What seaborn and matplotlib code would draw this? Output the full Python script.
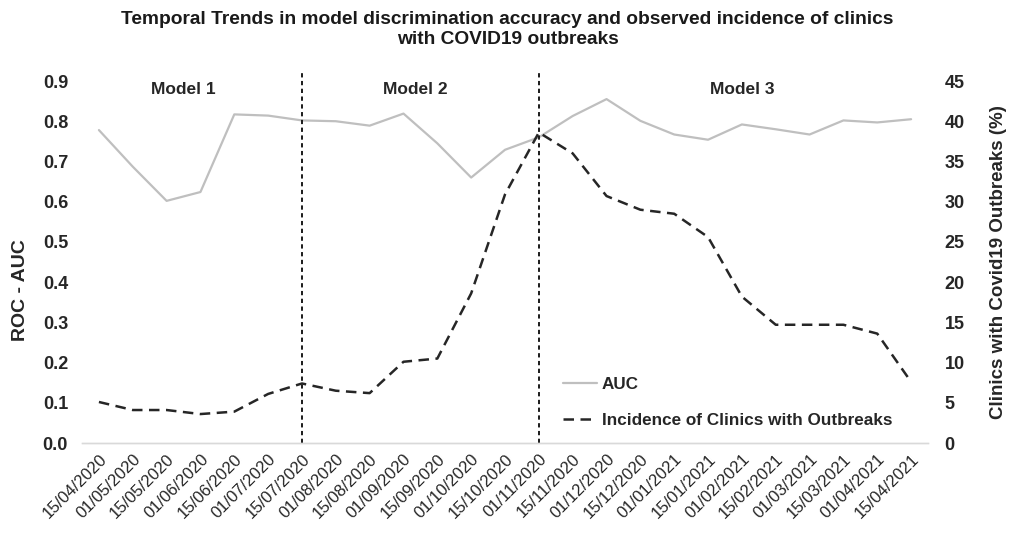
import numpy as np
import pandas as pd
import matplotlib
matplotlib.use("Agg")
import matplotlib.pyplot as plt
import seaborn as sns

# Fortnightly evaluation dates
dates = [
    "15/04/2020", "01/05/2020", "15/05/2020", "01/06/2020", "15/06/2020",
    "01/07/2020", "15/07/2020", "01/08/2020", "15/08/2020", "01/09/2020",
    "15/09/2020", "01/10/2020", "15/10/2020", "01/11/2020", "15/11/2020",
    "01/12/2020", "15/12/2020", "01/01/2021", "15/01/2021", "01/02/2021",
    "15/02/2021", "01/03/2021", "15/03/2021", "01/04/2021", "15/04/2021",
]

# ROC-AUC of the model in use at each date
auc = [
    0.778, 0.687, 0.602, 0.624, 0.817, 0.814, 0.802, 0.800, 0.789, 0.819,
    0.745, 0.660, 0.729, 0.760, 0.813, 0.855, 0.801, 0.767, 0.754, 0.792,
    0.780, 0.767, 0.802, 0.797, 0.805,
]

# Percentage of clinics with a COVID-19 outbreak
incidence = [
    5.1, 4.1, 4.1, 3.6, 3.9, 6.1, 7.4, 6.5, 6.2, 10.1,
    10.5, 18.6, 30.9, 38.6, 36.0, 30.7, 29.0, 28.5, 25.6, 18.2,
    14.7, 14.7, 14.7, 13.6, 7.6,
]

# Model switch dates and period labels
switch_dates = ["15/07/2020", "01/11/2020"]
model_labels = ["Model 1", "Model 2", "Model 3"]
model_label_pos = [2.5, 9.35, 19.0]

df = pd.DataFrame({"pos": np.arange(len(dates)), "date": dates,
                   "auc": auc, "incidence": incidence})

sns.set_theme(style="white")
plt.rcParams["font.family"] = ["Liberation Sans", "DejaVu Sans"]

fig = plt.figure(figsize=(10.15, 5.34), dpi=100)
ax = fig.add_axes([0.0808, 0.1704, 0.8335, 0.6779])
ax2 = ax.twinx()

sns.lineplot(data=df, x="pos", y="auc", ax=ax, color="#bfbfbf",
             linewidth=1.6, label="AUC", legend=False)
sns.lineplot(data=df, x="pos", y="incidence", ax=ax2, color="#262626",
             linewidth=1.8, label="Incidence of Clinics with Outbreaks",
             legend=False)
ax2.lines[0].set_dashes((4.2, 2.6))

ax.set_xlim(-0.5, len(dates) - 0.5)
ax.set_ylim(0, 0.9)
ax2.set_ylim(0, 45)

ax.set_yticks(np.arange(0, 0.91, 0.1))
ax.set_yticklabels([f"{v:.1f}" for v in np.arange(0, 0.91, 0.1)],
                   fontsize=13, fontweight="bold", color="#262626")
ax2.set_yticks(np.arange(0, 46, 5))
ax2.set_yticklabels([str(v) for v in range(0, 46, 5)],
                    fontsize=13, fontweight="bold", color="#262626")

ax.set_xticks(df["pos"])
ax.set_xticklabels(dates, rotation=45, ha="right", rotation_mode="anchor",
                   fontsize=12, color="#262626")
ax.tick_params(axis="x", length=0, pad=6)
ax.tick_params(axis="y", length=0, pad=10)
ax2.tick_params(axis="y", length=0, pad=12)

ax.set_xlabel("")
ax.set_ylabel("ROC - AUC", fontsize=14, fontweight="bold", color="#262626")
ax.yaxis.set_label_coords(-0.063, 0.423)
ax2.set_ylabel("Clinics with Covid19 Outbreaks (%)", fontsize=13.5,
               fontweight="bold", color="#262626", labelpad=18)

for a in (ax, ax2):
    for side in ("top", "left", "right"):
        a.spines[side].set_visible(False)
    a.spines["bottom"].set_color("#d9d9d9")
    a.spines["bottom"].set_linewidth(1.0)
    a.grid(False)

# Model switch markers
for d in switch_dates:
    ax.plot([dates.index(d)] * 2, [0, 0.925], color="#1a1a1a",
            linewidth=1.4, dashes=(2.2, 1.8), clip_on=False)

for lbl, xp in zip(model_labels, model_label_pos):
    ax.text(xp, 0.878, lbl, ha="center", va="center", fontsize=12.5,
            fontweight="bold", color="#262626")

handles = [ax.lines[0], ax2.lines[0]]
leg = ax.legend(handles, [h.get_label() for h in handles],
                loc="lower left", bbox_to_anchor=(0.55, 0.0),
                frameon=False, handlelength=2.0, handletextpad=0.3,
                labelspacing=1.2, prop={"weight": "bold", "size": 12.3})
for t in leg.get_texts():
    t.set_color("#262626")

fig.suptitle("Temporal Trends in model discrimination accuracy and observed incidence of clinics\nwith COVID19 outbreaks",
             x=0.5, y=0.98, fontsize=13.8, fontweight="bold",
             color="#1a1a1a", linespacing=1.25)

fig.savefig("out.png", dpi=100)
